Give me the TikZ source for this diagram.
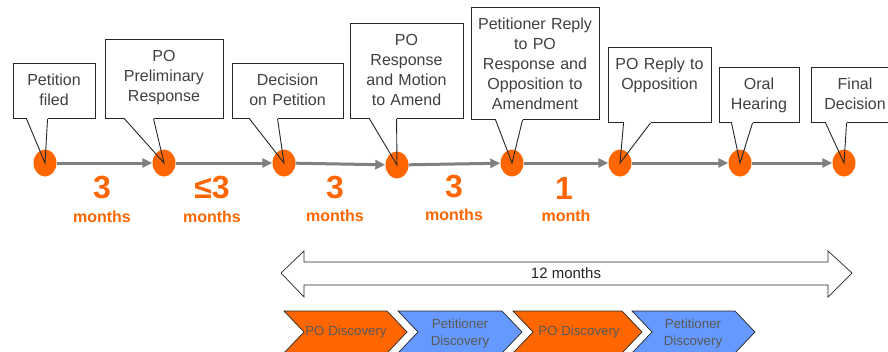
\documentclass[tikz,border=0pt]{standalone}
\usepackage{fontspec}
\setmainfont{Liberation Sans}
\usetikzlibrary{arrows.meta,shapes.geometric}

\definecolor{ptorange}{RGB}{255,102,0}
\definecolor{ptblue}{RGB}{102,153,255}
\definecolor{linegray}{RGB}{128,128,128}
\definecolor{txtgray}{RGB}{64,64,64}
\definecolor{stagegray}{RGB}{89,89,89}
\definecolor{edgegray}{RGB}{38,38,38}

\begin{document}
\begin{tikzpicture}[x=1pt, y=-1pt, line join=miter,
  callbox/.style={draw=edgegray, line width=0.9pt, fill=white, anchor=north, inner sep=0pt,
    align=center, text=txtgray, text height=21.7pt, font=\fontsize{16}{20}\selectfont},
  evdot/.style={ellipse, fill=ptorange, minimum width=23pt, minimum height=27pt, inner sep=0pt},
  flow/.style={draw=linegray, line width=3pt, -{Triangle[length=10pt,width=9pt]}},
  ptrline/.style={draw=edgegray, line width=0.9pt},
  gapfill/.style={fill=white},
  bignum/.style={text=ptorange, font=\bfseries\fontsize{32}{36}\selectfont},
  unitlbl/.style={text=ptorange, font=\bfseries\fontsize{16}{18}\selectfont},
  stagebox/.style={draw=edgegray, line width=0.7pt},
  stagetext/.style={text=stagegray, align=center, font=\fontsize{13.3}{17}\selectfont},
]

  %% ════ 气泡框 ════
  \node[callbox, text width=82pt,  text depth=33.3pt] (b1) at (54,63)    {Petition\\filed};
  \node[callbox, text width=118pt, text depth=57.3pt] (b2) at (164,39)   {PO\\Preliminary\\Response};
  \node[callbox, text width=111pt, text depth=33.3pt] (b3) at (287.5,63) {Decision\\on Petition};
  \node[callbox, text width=113pt, text depth=73.3pt] (b4) at (406.5,23) {PO\\Response\\and Motion\\to Amend};
  \node[callbox, text width=128pt, text depth=90.3pt] (b5) at (535,7)    {Petitioner Reply\\to PO\\Response and\\Opposition to\\Amendment};
  \node[callbox, text width=103pt, text depth=53.3pt] (b6) at (659.5,47) {PO Reply to\\Opposition};
  \node[callbox, text width=80pt,  text depth=33.3pt] (b7) at (759,67)   {Oral\\Hearing};
  \node[callbox, text width=88pt,  text depth=33.3pt] (b8) at (855,67)   {Final\\Decision};

  % 底边开口（尖角根部）
  \fill[gapfill] ([xshift=14pt,yshift=1.5pt]b1.south west) rectangle ([xshift=35pt,yshift=-1.5pt]b1.south west);
  \fill[gapfill] ([xshift=20pt,yshift=1.5pt]b2.south west) rectangle ([xshift=49pt,yshift=-1.5pt]b2.south west);
  \fill[gapfill] ([xshift=18pt,yshift=1.5pt]b3.south west) rectangle ([xshift=46pt,yshift=-1.5pt]b3.south west);
  \fill[gapfill] ([xshift=20pt,yshift=1.5pt]b4.south west) rectangle ([xshift=47pt,yshift=-1.5pt]b4.south west);
  \fill[gapfill] ([xshift=25pt,yshift=1.5pt]b5.south west) rectangle ([xshift=52pt,yshift=-1.5pt]b5.south west);
  \fill[gapfill] ([xshift=16pt,yshift=1.5pt]b6.south west) rectangle ([xshift=43pt,yshift=-1.5pt]b6.south west);
  \fill[gapfill] ([xshift=13pt,yshift=1.5pt]b7.south west) rectangle ([xshift=34pt,yshift=-1.5pt]b7.south west);
  \fill[gapfill] ([xshift=15pt,yshift=1.5pt]b8.south west) rectangle ([xshift=36pt,yshift=-1.5pt]b8.south west);

  %% ════ 时间轴圆点 ════
  \node[evdot] (d1) at (45,163)  {};
  \node[evdot] (d2) at (164,163) {};
  \node[evdot] (d3) at (284,163) {};
  \node[evdot] (d4) at (397,165) {};
  \node[evdot] (d5) at (512,163) {};
  \node[evdot] (d6) at (620,163) {};
  \node[evdot] (d7) at (740,163) {};
  \node[evdot] (d8) at (844,163) {};

  %% ════ 灰色箭头 ════
  \draw[flow] (d1) -- (d2);
  \draw[flow] (d2) -- (d3);
  \draw[flow] (d3) -- (d4);
  \draw[flow] (d4) -- (d5);
  \draw[flow] (d5) -- (d6);
  \draw[flow] (d6) -- (d7);
  \draw[flow] (d7) -- (d8);

  %% ════ 尖角：框底 → 圆心 ════
  \draw[ptrline] ([xshift=14pt]b1.south west) -- (d1.center) -- ([xshift=35pt]b1.south west);
  \draw[ptrline] ([xshift=20pt]b2.south west) -- (d2.center) -- ([xshift=49pt]b2.south west);
  \draw[ptrline] ([xshift=18pt]b3.south west) -- (d3.center) -- ([xshift=46pt]b3.south west);
  \draw[ptrline] ([xshift=20pt]b4.south west) -- (d4.center) -- ([xshift=47pt]b4.south west);
  \draw[ptrline] ([xshift=25pt]b5.south west) -- (d5.center) -- ([xshift=52pt]b5.south west);
  \draw[ptrline] ([xshift=16pt]b6.south west) -- (d6.center) -- ([xshift=43pt]b6.south west);
  \draw[ptrline] ([xshift=13pt]b7.south west) -- (d7.center) -- ([xshift=34pt]b7.south west);
  \draw[ptrline] ([xshift=15pt]b8.south west) -- (d8.center) -- ([xshift=36pt]b8.south west);

  %% ════ 间隔时长 ════
  \node[bignum]  (n1) at (102,188) {3};
  \node[unitlbl] (m1) at (102,217) {months};
  \node[bignum]  (n2) at (212,188) {≤3};
  \node[unitlbl] (m2) at (212,217) {months};
  \node[bignum]  (n3) at (335,188) {3};
  \node[unitlbl] (m3) at (335,216) {months};
  \node[bignum]  (n4) at (454,187) {3};
  \node[unitlbl] (m4) at (454,215) {months};
  \node[bignum]  (n5) at (564,188) {1};
  \node[unitlbl] (m5) at (566,216) {month};

  %% ════ 12 个月双向箭头 ════
  \draw[stagebox, fill=white] (281,273) -- (304,251) -- (304,262) -- (828,262) -- (828,251) -- (852,273)
    -- (828,297) -- (828,285) -- (304,285) -- (304,297) -- cycle;
  \node[text=edgegray, font=\fontsize{15}{18}\selectfont] (span) at (566,273) {12 months};

  %% ════ 取证阶段（箭头形色块）════
  \draw[stagebox, fill=ptorange] (284,311) -- (387,311) -- (407,332) -- (387,353) -- (284,353) -- (304,332) -- cycle;
  \draw[stagebox, fill=ptblue]   (398,311) -- (502,311) -- (522,332) -- (502,353) -- (398,353) -- (418,332) -- cycle;
  \draw[stagebox, fill=ptorange] (513,311) -- (622,311) -- (642,332) -- (622,353) -- (513,353) -- (533,332) -- cycle;
  \draw[stagebox, fill=ptblue]   (632,311) -- (735,311) -- (755,332) -- (735,353) -- (632,353) -- (652,332) -- cycle;
  \node[stagetext] (s1) at (346,332) {PO Discovery};
  \node[stagetext] (s2) at (460,334) {Petitioner\\Discovery};
  \node[stagetext] (s3) at (579,332) {PO Discovery};
  \node[stagetext] (s4) at (693,334) {Petitioner\\Discovery};

  % 固定画布
  \pgfresetboundingbox
  \path[use as bounding box] (0,0) rectangle (888,351);
\end{tikzpicture}
\end{document}
